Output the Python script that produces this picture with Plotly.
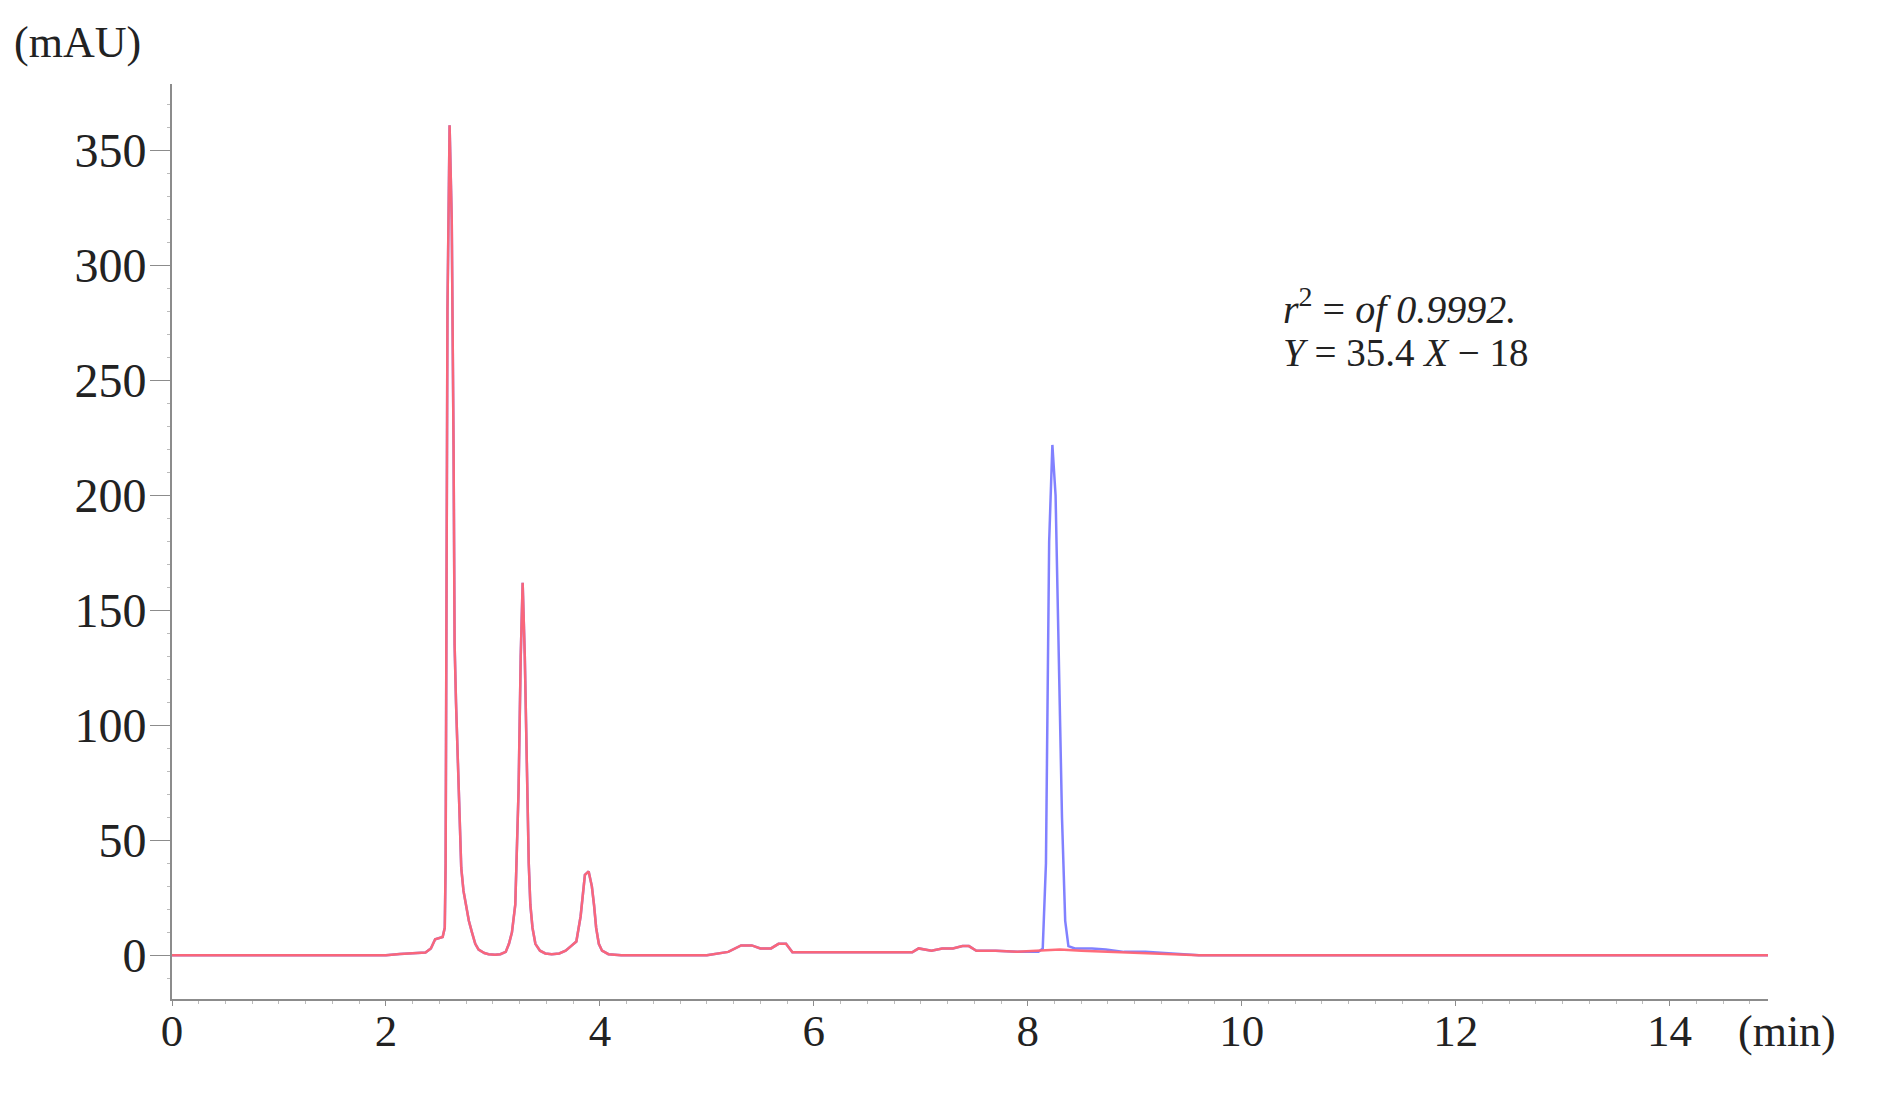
import plotly.graph_objects as go

# retention time (min) / absorbance (mAU)
# shared part of both runs (the two traces overlap up to ~8 min)
time_early = [0.0, 2.0, 2.13, 2.25, 2.37, 2.42, 2.46, 2.53, 2.55, 2.558, 2.565, 2.575,
              2.595, 2.615, 2.632, 2.642, 2.655, 2.673, 2.69, 2.704, 2.725, 2.748,
              2.775, 2.804, 2.835, 2.866, 2.92, 2.96, 3.02, 3.07, 3.12, 3.15, 3.178,
              3.209, 3.24, 3.26, 3.278, 3.298, 3.318, 3.335, 3.35, 3.37, 3.397, 3.44,
              3.49, 3.55, 3.62, 3.68, 3.73, 3.78, 3.82, 3.86, 3.895, 3.925, 3.945, 3.965,
              3.99, 4.02, 4.08, 4.2, 4.6, 5.0, 5.2, 5.32, 5.42, 5.5, 5.6, 5.67, 5.74,
              5.8, 6.0, 6.5, 6.92, 6.98, 7.1, 7.2, 7.3, 7.39, 7.45, 7.52, 7.7, 7.9]
mau_early = [0.0, 0.0, 0.6, 1.0, 1.2, 3.0, 7.0, 8.0, 12.0, 40.0, 150.0, 280.0,
             361.0, 320.0, 222.0, 135.0, 110.0, 80.0, 55.0, 38.0, 28.0, 22.0,
             15.0, 10.0, 5.0, 2.5, 1.0, 0.5, 0.3, 0.5, 1.5, 5.0, 10.0,
             22.0, 72.0, 130.0, 162.0, 130.0, 72.0, 40.0, 22.0, 12.0, 5.0, 2.0,
             0.8, 0.5, 0.8, 2.0, 4.0, 6.0, 17.0, 35.0, 36.5, 30.0, 22.0, 12.0,
             5.0, 2.0, 0.5, 0.0, 0.0, 0.0, 1.5, 4.3, 4.3, 3.0, 3.0, 5.0, 5.0,
             1.3, 1.3, 1.3, 1.3, 3.0, 2.0, 3.0, 3.0, 4.0, 4.0, 2.0, 2.0, 1.5]

# red run after 8 min
time_red_late = [8.1, 8.3, 8.5, 8.8, 9.1, 9.4, 9.6, 10.0, 12.0, 14.92]
mau_red_late = [2.0, 2.5, 2.0, 1.5, 1.0, 0.5, 0.0, 0.0, 0.0, 0.0]

# blue run after 8 min (extra peak at 8.2 min)
time_blue_late = [8.0, 8.1, 8.14, 8.17, 8.2, 8.23, 8.26, 8.29, 8.32, 8.35, 8.38,
                  8.44, 8.6, 8.73, 8.9, 9.1, 9.29, 9.45, 9.6, 10.0, 12.0, 14.92]
mau_blue_late = [1.5, 1.5, 3.0, 40.0, 180.0, 222.0, 200.0, 130.0, 60.0, 15.0, 4.0,
                 3.0, 3.0, 2.5, 1.5, 1.5, 1.0, 0.5, 0.0, 0.0, 0.0, 0.0]

x_ticks = [0, 2, 4, 6, 8, 10, 12, 14]
y_ticks = [0, 50, 100, 150, 200, 250, 300, 350]

FONT = "Liberation Serif, Times New Roman, serif"

fig = go.Figure()

fig.add_trace(go.Scatter(
    x=time_early + time_blue_late,
    y=mau_early + mau_blue_late,
    mode="lines",
    line=dict(color="rgba(115,115,255,0.9)", width=2.5),
    name="blue",
))
fig.add_trace(go.Scatter(
    x=time_early + time_red_late,
    y=mau_early + mau_red_late,
    mode="lines",
    line=dict(color="rgba(255,100,115,0.95)", width=2.5),
    name="red",
))

axis_common = dict(
    showline=True,
    linecolor="#8c8c8c",
    linewidth=2,
    showgrid=False,
    zeroline=False,
    ticks="outside",
    tickcolor="#8c8c8c",
)

# page body adds ~8px offset, so margins are trimmed accordingly
fig.update_layout(
    width=1877,
    height=1095,
    margin=dict(l=164, r=117, t=76, b=104),
    paper_bgcolor="white",
    plot_bgcolor="white",
    showlegend=False,
    xaxis=dict(
        range=[0, 14.92],
        tickvals=x_ticks,
        ticklen=5,
        ticklabelstandoff=-14,
        tickfont=dict(family=FONT, size=45, color="#222"),
        minor=dict(ticks="outside", ticklen=3, dtick=0.25, tickcolor="#bbbbbb"),
        **axis_common,
    ),
    yaxis=dict(
        range=[-19, 379],
        tickvals=y_ticks,
        ticklen=20,
        ticklabelstandoff=-6,
        tickfont=dict(family=FONT, size=48, color="#222"),
        minor=dict(ticks="outside", ticklen=3, dtick=10, tickcolor="#bbbbbb"),
        **axis_common,
    ),
    annotations=[
        dict(text="(mAU)", xref="paper", yref="paper", x=-0.100, y=1.045,
             xanchor="left", yanchor="middle", showarrow=False,
             font=dict(family=FONT, size=44, color="#222")),
        dict(text="(min)", xref="paper", yref="paper", x=0.980, y=-0.036,
             xanchor="left", yanchor="middle", showarrow=False,
             font=dict(family=FONT, size=44, color="#222")),
        dict(text="<i>r</i><sup>2</sup> = <i>of 0.9992.</i>", xref="paper", yref="paper",
             x=0.695, y=0.757, xanchor="left", yanchor="middle", showarrow=False,
             font=dict(family=FONT, size=40, color="#222")),
        dict(text="<i>Y</i> = 35.4 <i>X</i> − 18", xref="paper", yref="paper",
             x=0.695, y=0.707, xanchor="left", yanchor="middle", showarrow=False,
             font=dict(family=FONT, size=39, color="#222")),
    ],
)

fig.write_html("out.html")
